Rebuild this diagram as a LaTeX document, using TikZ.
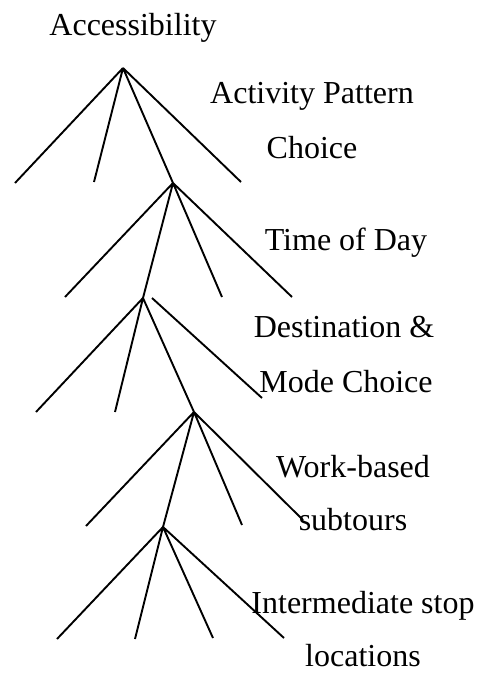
\documentclass[tikz,border=0pt]{standalone}
\usepackage{fontspec}
\setmainfont{Liberation Serif}
\usepackage{tikz}

\begin{document}
\begin{tikzpicture}[x=1pt,y=-1pt,line width=1.9pt,
  lbl/.style={anchor=base,inner sep=0pt,font=\fontsize{32}{38}\selectfont}]
  \useasboundingbox (0,0) rectangle (480,673);
  % nesting levels
  \coordinate (t1) at (123,68);
  \coordinate (t2) at (173,183);
  \coordinate (t3) at (143,298);
  \coordinate (t4) at (194,412);
  \coordinate (t5) at (163,527);
  % leaves
  \coordinate (a1) at (15,183);  \coordinate (a2) at (94,182);  \coordinate (a4) at (241,182);
  \coordinate (b1) at (65,297);  \coordinate (b3) at (222,297); \coordinate (b4) at (292,297);
  \coordinate (c1) at (36,412);  \coordinate (c2) at (115,412);
  \coordinate (c4s) at (152,298); \coordinate (c4) at (262,398);
  \coordinate (d1) at (86,526);  \coordinate (d3) at (242,525); \coordinate (d4) at (303,520);
  \coordinate (e1) at (57,639);  \coordinate (e2) at (135,639); \coordinate (e3) at (213,638);
  \coordinate (e4) at (284,638);

  \draw (t1) -- (a1) (t1) -- (a2) (t1) -- (t2) (t1) -- (a4);
  \draw (t2) -- (b1) (t2) -- (t3) (t2) -- (b3) (t2) -- (b4);
  \draw (t3) -- (c1) (t3) -- (c2) (t3) -- (t4) (c4s) -- (c4);
  \draw (t4) -- (d1) (t4) -- (t5) (t4) -- (d3) (t4) -- (d4);
  \draw (t5) -- (e1) (t5) -- (e2) (t5) -- (e3) (t5) -- (e4);

  \node[lbl] (access) at (133,35) {Accessibility};
  \node[lbl] (pattern) at (312,103) {Activity Pattern};
  \node[lbl] (patternb) at (312,158) {Choice};
  \node[lbl] (tod) at (346,250) {Time of Day};
  \node[lbl] (dest) at (344,337) {Destination \&};
  \node[lbl] (destb) at (346,392) {Mode Choice};
  \node[lbl] (work) at (353,477) {Work-based};
  \node[lbl] (workb) at (353,530) {subtours};
  \node[lbl] (stop) at (363,613) {Intermediate stop};
  \node[lbl] (stopb) at (363,666) {locations};
\end{tikzpicture}
\end{document}
